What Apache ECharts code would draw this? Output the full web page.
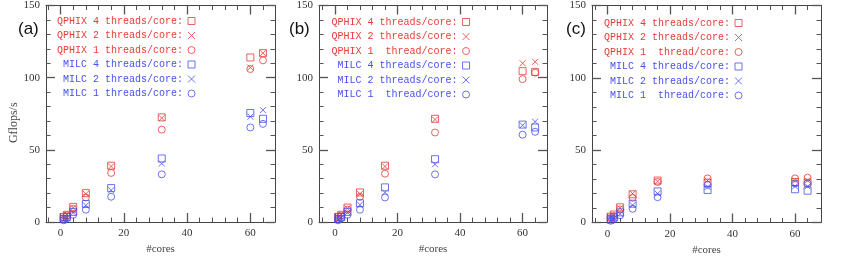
<!DOCTYPE html>
<html><head><meta charset="utf-8">
<script src="https://cdn.jsdelivr.net/npm/echarts@6/dist/echarts.min.js"></script>
<style>html,body{margin:0;padding:0;background:#fff}#c{width:845px;height:270px}</style>
</head><body><div id="c"></div>
<script>
// ---------- data ----------
const cores = [1, 2, 4, 8, 16, 32, 60, 64];
const xMajorTicks = [0, 20, 40, 60];
const xMinorTicks = [-4, 4, 8, 12, 16, 24, 28, 32, 36, 44, 48, 52, 56, 64];
const panelLabels = ['(a)', '(b)', '(c)'];
const xTitle = '#cores';
const yTitle = 'Gflops/s';
const namesA = ['QPHIX 4 threads/core:', 'QPHIX 2 threads/core:', 'QPHIX 1 threads/core:',
                'MILC 4 threads/core:', 'MILC 2 threads/core:', 'MILC 1 threads/core:'];
const namesBC = ['QPHIX 4 threads/core:', 'QPHIX 2 threads/core:', 'QPHIX 1  thread/core:',
                 'MILC 4 threads/core:', 'MILC 2 threads/core:', 'MILC 1  thread/core:'];
// panel (a)
const a_qphix4 = [3.5, 5, 10.5, 20, 39, 72.5, 114, 117];
const a_qphix2 = [3, 5, 10, 19.5, 38.5, 72, 107, 117];
const a_qphix1 = [2.5, 4.5, 9, 17, 34, 64, 106, 112];
const a_milc4 = [2, 3.5, 7, 12.5, 23.5, 44, 75.5, 71.5];
const a_milc2 = [1.5, 3, 6.5, 11.5, 22, 40.5, 73, 77.5];
const a_milc1 = [1.2, 2.5, 5, 8.5, 17.5, 33, 65.5, 68];
// panel (b)
const b_qphix4 = [3.5, 5, 10, 20.5, 39, 71.5, 104.5, 104];
const b_qphix2 = [3, 5, 9.5, 19.5, 38.5, 71, 110, 111];
const b_qphix1 = [2.5, 4.5, 8.5, 17.5, 33.5, 62, 99, 103.5];
const b_milc4 = [2, 3.5, 7, 13, 24, 43.5, 67.5, 65.5];
const b_milc2 = [1.5, 3, 6.5, 12, 20.5, 40, 67, 69.5];
const b_milc1 = [1.2, 2.5, 5, 8.5, 17, 33, 60.5, 62.5];
// panel (c)
const c_qphix4 = [4, 5.5, 10.5, 19.5, 29, 27.5, 28, 27.5];
const c_qphix2 = [3.5, 5, 10, 20, 28.5, 29, 29, 29];
const c_qphix1 = [3, 4.5, 9, 17, 28, 30.5, 30.5, 31];
const c_milc4 = [2, 3.5, 7, 13, 21.5, 22.5, 23, 22];
const c_milc2 = [1.5, 3, 6, 12, 20, 24.5, 25, 25];
const c_milc1 = [1.2, 2.5, 5, 9.5, 17.5, 26, 27, 27];

// ---------- style ----------
const RED = '#e63c38', BLUE = '#4650ee';
const crossPath = 'path://M0,0L10,10M0,10L10,0';
const symbols = ['rect', crossPath, 'circle', 'rect', crossPath, 'circle'];
const colors = [RED, RED, RED, BLUE, BLUE, BLUE];
const panels = [
  {names: namesA, data: [a_qphix4, a_qphix2, a_qphix1, a_milc4, a_milc2, a_milc1],
   grid: {left: 46, right: 570, top: 5, bottom: 48}, xr: [-4.6, 67.8],
   legend: {left: 57, top: 15}, lab: {x: 18, y: 21}},
  {names: namesBC, data: [b_qphix4, b_qphix2, b_qphix1, b_milc4, b_milc2, b_milc1],
   grid: {left: 319, right: 298, top: 5, bottom: 48}, xr: [-5.1, 67.8],
   legend: {left: 331.5, top: 16}, lab: {x: 289, y: 21}},
  {names: namesBC, data: [c_qphix4, c_qphix2, c_qphix1, c_milc4, c_milc2, c_milc1],
   grid: {left: 592, right: 24, top: 5, bottom: 47.5}, xr: [-5, 68.3],
   legend: {left: 604, top: 17}, lab: {x: 566, y: 21}}
];

const FRAME = '#444', TICK = '#555';
const labelFont = {fontFamily: 'Liberation Serif', fontSize: 11, color: '#333'};

const grid = [], xAxis = [], yAxis = [], series = [], legend = [], graphic = [];
panels.forEach((p, pi) => {
  grid.push(p.grid);
  const base = {type: 'value', gridIndex: pi, min: p.xr[0], max: p.xr[1], splitLine: {show: false}};
  const line = {show: true, onZero: false, lineStyle: {color: FRAME, width: 1}};
  const noLine = {show: false, onZero: false};
  xAxis.push(Object.assign({}, base, {
    position: 'bottom', axisLine: line,
    axisTick: {show: true, inside: true, length: 9, customValues: xMajorTicks, lineStyle: {color: TICK, width: 1.3}},
    axisLabel: Object.assign({customValues: xMajorTicks, margin: 6}, labelFont),
    name: xTitle, nameLocation: 'middle', nameGap: 18,
    nameTextStyle: {fontFamily: 'Liberation Serif', fontSize: 11, color: '#444'}
  }));
  xAxis.push(Object.assign({}, base, {
    position: 'bottom', axisLine: noLine,
    axisTick: {show: true, inside: true, length: 4.5, customValues: xMinorTicks, lineStyle: {color: TICK}},
    axisLabel: {show: false}
  }));
  xAxis.push(Object.assign({}, base, {
    position: 'top', axisLine: line,
    axisTick: {show: true, inside: true, length: 9, customValues: xMajorTicks, lineStyle: {color: TICK, width: 1.3}},
    axisLabel: {show: false}
  }));
  xAxis.push(Object.assign({}, base, {
    position: 'top', axisLine: noLine,
    axisTick: {show: true, inside: true, length: 4.5, customValues: xMinorTicks, lineStyle: {color: TICK}},
    axisLabel: {show: false}
  }));
  const ybase = {type: 'value', gridIndex: pi, min: 0, max: 150, interval: 50, splitLine: {show: false},
    axisLine: line,
    axisTick: {show: true, inside: true, length: 9, lineStyle: {color: TICK, width: 1.3}},
    minorTick: {show: true, splitNumber: 5, length: 4.5, lineStyle: {color: TICK}},
    minorSplitLine: {show: false}};
  yAxis.push(Object.assign({}, ybase, {
    position: 'left',
    axisLabel: Object.assign({margin: 6}, labelFont),
    name: pi === 0 ? yTitle : '', nameLocation: 'middle', nameGap: 24,
    nameTextStyle: {fontFamily: 'Liberation Serif', fontSize: 12, color: '#444', padding: [0, 18, 0, 0]}
  }));
  yAxis.push(Object.assign({}, ybase, {position: 'right', axisLabel: {show: false}}));

  const ids = p.names.map(nm => panelLabels[pi] + '|' + nm);
  p.names.forEach((nm, si) => {
    series.push({
      type: 'scatter', name: ids[si], xAxisIndex: pi * 4, yAxisIndex: pi * 2,
      symbol: symbols[si], symbolSize: si % 3 === 1 ? 6 : 7,
      itemStyle: {color: 'transparent', borderColor: colors[si], borderWidth: 1},
      data: cores.map((c, k) => [c, p.data[si][k]]),
      clip: false
    });
  });
  legend.push({
    orient: 'vertical', align: 'right', left: p.legend.left, top: p.legend.top, padding: 0,
    itemWidth: 7, itemHeight: 7, itemGap: 2.5, selectedMode: false,
    formatter: n => n.split('|')[1],
    textStyle: {fontFamily: 'Liberation Mono', fontSize: 10, lineHeight: 12},
    data: ids.map((id, si) => ({
      name: id, icon: symbols[si],
      itemStyle: {color: 'transparent', borderColor: colors[si], borderWidth: 1},
      textStyle: {color: colors[si]}
    }))
  });
  graphic.push({type: 'text', left: p.lab.x, top: p.lab.y,
    style: {text: panelLabels[pi], font: '17px "Liberation Sans"', fill: '#111'}});
});

const chart = echarts.init(document.getElementById('c'), null, {renderer: 'canvas'});
chart.setOption({animation: false, backgroundColor: '#fff', grid, xAxis, yAxis, series, legend, graphic});
</script></body></html>
